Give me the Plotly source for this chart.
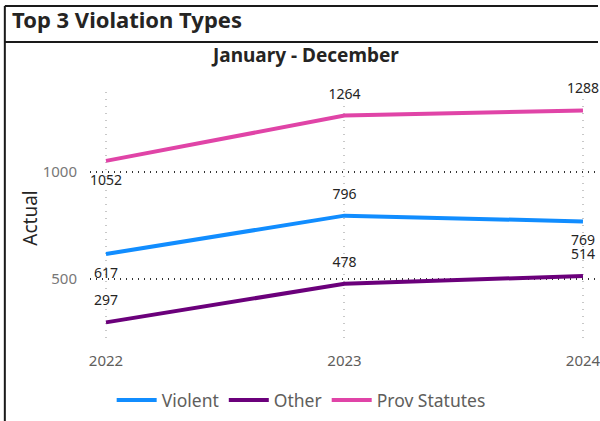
import plotly.graph_objects as go

# data
years = ["2022", "2023", "2024"]
violent = [617, 796, 769]
other = [297, 478, 514]
prov_statutes = [1052, 1264, 1288]

violent_pos = ["bottom center", "top center", "bottom center"]
other_pos = ["top center", "top center", "top center"]
prov_pos = ["bottom center", "top center", "top center"]

W, H = 600, 421
ML, MR, MT, MB = 90, 0, 92, 77
PW, PH = W - ML - MR, H - MT - MB


def px(x):
    return (x - ML) / PW


def py(y):
    return (H - MB - y) / PH


FONT = "Segoe UI, Noto Sans, Open Sans, sans-serif"

fig = go.Figure()

series = [
    ("Violent", violent, "#118DFF", violent_pos),
    ("Other", other, "#6B007B", other_pos),
    ("Prov Statutes", prov_statutes, "#E044A7", prov_pos),
]
for name, vals, color, pos in series:
    fig.add_trace(go.Scatter(
        x=years, y=vals, name=name,
        mode="lines+markers+text",
        line=dict(color=color, width=4),
        marker=dict(size=20, color="rgba(0,0,0,0)"),
        text=[str(v) for v in vals],
        textposition=pos,
        textfont=dict(family=FONT, size=14, color="#252423"),
        cliponaxis=False,
    ))

fig.update_layout(
    width=W, height=H,
    margin=dict(l=ML, r=MR, t=MT, b=MB),
    paper_bgcolor="white", plot_bgcolor="white",
    font=dict(family=FONT),
    title=dict(
        text="<b>Top 3 Violation Types</b>",
        x=12 / W, xanchor="left", y=1 - 20 / H, yanchor="middle",
        font=dict(family=FONT, size=22, color="#252423"),
    ),
    legend=dict(
        orientation="h", x=px(302), xanchor="center", y=py(400), yanchor="middle",
        font=dict(family=FONT, size=17.5, color="#605E5C"),
        itemwidth=40, tracegroupgap=0,
    ),
    showlegend=True,
)

fig.update_xaxes(
    type="category", range=[-0.067, 2.063],
    showgrid=True, gridcolor="#C8C8C8", gridwidth=1.5, griddash="1px,6px",
    showline=False, zeroline=False, ticks="",
    tickfont=dict(family=FONT, size=15, color="#605E5C"),
    ticklabelstandoff=6,
)
fig.update_yaxes(
    range=[196, 1374], tickvals=[500, 1000],
    showgrid=True, gridcolor="#333333", gridwidth=1.5, griddash="1px,5px",
    showline=False, zeroline=False, ticks="",
    tickfont=dict(family=FONT, size=15, color="#777777"),
    ticklabelstandoff=12,
    title=dict(text="Actual", font=dict(family=FONT, size=19, color="#252423"), standoff=0),
)

fig.add_annotation(
    text="<b>January - December</b>", xref="paper", yref="paper",
    x=px(306), y=py(55), xanchor="center", yanchor="middle", showarrow=False,
    font=dict(family=FONT, size=19, color="#252423"),
)

# card frame: top edge, title separator, left edge
frame = dict(color="#1a1a1a", width=2)
fig.add_shape(type="line", xref="paper", yref="paper",
              x0=px(4.5), x1=px(600), y0=py(6), y1=py(6), line=frame)
fig.add_shape(type="line", xref="paper", yref="paper",
              x0=px(4.5), x1=px(600), y0=py(42), y1=py(42), line=frame)
fig.add_shape(type="line", xref="paper", yref="paper",
              x0=px(4.5), x1=px(4.5), y0=py(6), y1=py(421), line=frame)

# drop the browser's default body margin so the figure sits at the window origin
fig.write_html("out.html", config={"displayModeBar": False},
               post_script="document.body.style.margin='0';")
